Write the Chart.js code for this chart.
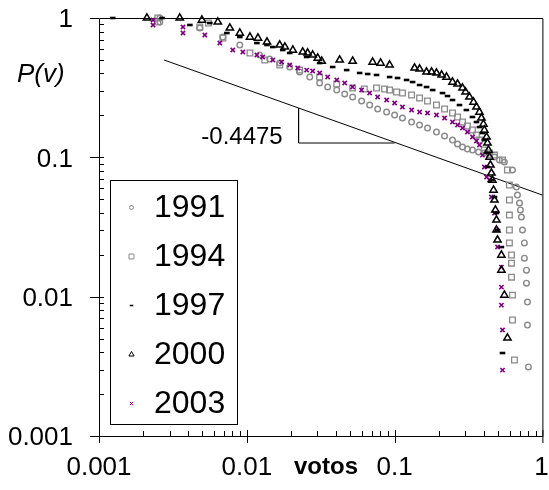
<!DOCTYPE html>
<html>
<head>
<meta charset="utf-8">
<script src="https://cdn.jsdelivr.net/npm/chart.js@4.4.0/dist/chart.umd.min.js"></script>
<style>
  html, body { margin: 0; padding: 0; background: #fff; }
</style>
</head>
<body>
<canvas id="votosChart" width="549" height="490"></canvas>
<script>
// P(v) vs votos, one pair of arrays per election year
const v1991 = [0.00258, 0.00258, 0.00481, 0.00689, 0.00897,
    0.0122, 0.01429, 0.0167, 0.0195, 0.0228, 0.02667, 0.0311, 0.03524, 0.0406, 0.04597, 0.052, 0.0598, 0.0678, 0.0768, 0.0883,
    0.1, 0.113, 0.1303, 0.1476, 0.167, 0.192, 0.2178, 0.2465, 0.2667, 0.288, 0.311, 0.3365, 0.3698, 0.405, 0.439, 0.474, 0.512, 0.553,
    0.627, 0.667, 0.678, 0.7, 0.71, 0.721, 0.733, 0.755, 0.755, 0.78, 0.78, 0.792, 0.792, 0.804];
const p1991 = [1, 0.936, 0.848, 0.73, 0.64,
    0.543, 0.508, 0.475, 0.445, 0.41, 0.377, 0.3415, 0.3197, 0.304, 0.2847, 0.271, 0.2536, 0.2373, 0.2222, 0.2114,
    0.2012, 0.1915, 0.1792, 0.1706, 0.1623, 0.1519, 0.1422, 0.133, 0.1246, 0.1186, 0.1147, 0.1128, 0.1092, 0.1074, 0.1038, 0.1005, 0.0957, 0.0925,
    0.0811, 0.0612, 0.0536, 0.047, 0.0419, 0.0373, 0.0301, 0.0243, 0.0189, 0.0155, 0.0125, 0.00915, 0.00625, 0.00313];

const v1994 = [0.0025, 0.0025, 0.00481, 0.0055, 0.00689, 0.0105, 0.01323, 0.0167, 0.0228, 0.0311,
    0.0406, 0.052, 0.06237, 0.0755, 0.0855, 0.0925, 0.1031, 0.113, 0.1303, 0.1476,
    0.167, 0.192, 0.2178, 0.2465, 0.2667, 0.288, 0.311, 0.3365, 0.358, 0.375,
    0.405, 0.439, 0.474, 0.537, 0.58, 0.598, 0.598, 0.598, 0.598, 0.598,
    0.618, 0.618, 0.618, 0.627, 0.627, 0.647];
const p1994 = [1, 0.936, 0.862, 0.92, 0.718, 0.561, 0.4995, 0.46, 0.423, 0.377,
    0.336, 0.3144, 0.3093, 0.3144, 0.3093, 0.304, 0.2943, 0.2893, 0.28, 0.2665,
    0.2536, 0.2373, 0.2222, 0.208, 0.1947, 0.1792, 0.1677, 0.157, 0.1446, 0.133,
    0.1128, 0.1074, 0.1038, 0.0957, 0.0811, 0.0633, 0.0494, 0.0385, 0.0301, 0.0243,
    0.0199, 0.0174, 0.0138, 0.01026, 0.0068, 0.00351];

const v1997 = [0.00124, 0.00267, 0.00412, 0.00562, 0.00733, 0.00897, 0.0117, 0.0137, 0.015, 0.0175,
    0.0195, 0.0254, 0.0311, 0.0381, 0.0474, 0.058, 0.0657, 0.0755, 0.0925, 0.1047,
    0.1205, 0.1324, 0.1476, 0.1645, 0.181, 0.211, 0.228, 0.2465, 0.2748, 0.306,
    0.3365, 0.358, 0.375, 0.393, 0.405, 0.419, 0.425, 0.452, 0.474, 0.489,
    0.497, 0.528, 0.537];
const p1997 = [1, 1, 0.891, 0.92, 0.78, 0.73, 0.661, 0.64, 0.619, 0.589,
    0.561, 0.525, 0.475, 0.445, 0.423, 0.403, 0.3963, 0.39, 0.377, 0.371,
    0.359, 0.347, 0.3304, 0.3197, 0.304, 0.2893, 0.2754, 0.2578, 0.2373, 0.2186,
    0.1947, 0.1792, 0.165, 0.1494, 0.133, 0.1074, 0.0852, 0.0687, 0.0519, 0.0398,
    0.0301, 0.0227, 0.00394];

const v2000 = [0.00211, 0.00352, 0.00497, 0.00637, 0.00768, 0.00897, 0.0105, 0.0119, 0.0137, 0.0167,
    0.0181, 0.0205, 0.0239, 0.0258, 0.0279, 0.0302, 0.0321, 0.0425, 0.052, 0.071,
    0.0804, 0.0925, 0.1365, 0.1476, 0.1645, 0.178, 0.192, 0.208, 0.2245, 0.2465,
    0.2667, 0.288, 0.302, 0.321, 0.342, 0.358, 0.375, 0.387, 0.399, 0.405,
    0.419, 0.425, 0.432, 0.439, 0.445, 0.452, 0.459, 0.467, 0.474, 0.481,
    0.489, 0.489, 0.497, 0.528, 0.528, 0.553, 0.58];
const p2000 = [1, 1, 0.967, 0.936, 0.848, 0.78, 0.73, 0.718, 0.673, 0.64,
    0.619, 0.589, 0.57, 0.561, 0.543, 0.516, 0.49, 0.4995, 0.49, 0.483,
    0.475, 0.46, 0.4375, 0.4305, 0.41, 0.41, 0.403, 0.39, 0.377, 0.347,
    0.336, 0.3144, 0.2943, 0.271, 0.2494, 0.2297, 0.2114, 0.1915, 0.1734, 0.157,
    0.14, 0.1267, 0.1128, 0.1005, 0.0881, 0.0772, 0.0687, 0.0582, 0.0494, 0.0419,
    0.0355, 0.0301, 0.0255, 0.0199, 0.0155, 0.01026, 0.00505];

const v2003 = [0.00232, 0.00232, 0.0037, 0.0037, 0.0052, 0.00657, 0.00804, 0.0094, 0.0117, 0.0128,
    0.015, 0.0172, 0.0195, 0.0221, 0.0254, 0.0279, 0.0311, 0.03524, 0.0406, 0.04597,
    0.052, 0.0598, 0.0678, 0.0768, 0.0883, 0.1, 0.113, 0.1303, 0.1476, 0.167,
    0.192, 0.2178, 0.2465, 0.2667, 0.288, 0.311, 0.3365, 0.358, 0.375, 0.393,
    0.405, 0.419, 0.439, 0.452, 0.474, 0.489, 0.497, 0.528, 0.528, 0.528,
    0.537, 0.537];
const p2003 = [0.967, 0.891, 0.862, 0.78, 0.755, 0.661, 0.589, 0.57, 0.543, 0.525,
    0.4995, 0.483, 0.46, 0.4375, 0.423, 0.4165, 0.403, 0.377, 0.359, 0.3415,
    0.3197, 0.304, 0.2893, 0.271, 0.2578, 0.2453, 0.2297, 0.2186, 0.2114, 0.208,
    0.2012, 0.1915, 0.1792, 0.1706, 0.1623, 0.1519, 0.14, 0.131, 0.1226, 0.1038,
    0.0852, 0.0722, 0.0687, 0.0519, 0.0398, 0.0301, 0.0227, 0.0163, 0.0117, 0.0087,
    0.00576, 0.00297];

// power-law fit line and the slope triangle
const fitV = [0.00275, 1];
const fitP = [0.5, 0.0536];
const triV = [0.0224, 0.0224, 0.1];
const triP = [0.2255, 0.1267, 0.1267];
const slopeLabel = '-0.4475';

const decades = [0.001, 0.01, 0.1, 1];
const tickLabels = ['0.001', '0.01', '0.1', '1'];

function toPoints(xs, ys) {
    return xs.map((v, i) => ({x: v, y: ys[i]}));
}

const FONT = '"Liberation Sans", Arial, sans-serif';

const decor = {
    id: 'decor',
    beforeDatasetsDraw(chart) {
        const ctx = chart.ctx;
        const a = chart.chartArea;
        const xs = chart.scales.x, ys = chart.scales.y;
        ctx.save();
        ctx.strokeStyle = '#000';
        ctx.lineWidth = 1;
        ctx.beginPath();
        // frame
        ctx.moveTo(a.left + 0.5, a.top + 0.5);
        ctx.lineTo(a.right + 0.5, a.top + 0.5);
        ctx.lineTo(a.right + 0.5, a.bottom + 0.5);
        ctx.lineTo(a.left + 0.5, a.bottom + 0.5);
        ctx.closePath();
        // ticks: majors cross the axis, minors point inward
        for (let e = -3; e <= -1; e++) {
            for (let m = 1; m <= 9; m++) {
                const val = m * Math.pow(10, e);
                const px = Math.round(xs.getPixelForValue(val)) + 0.5;
                const py = Math.round(ys.getPixelForValue(val)) + 0.5;
                if (m === 1) {
                    ctx.moveTo(px, a.bottom - 6); ctx.lineTo(px, a.bottom + 7);
                    ctx.moveTo(a.left - 9, py); ctx.lineTo(a.left + 5, py);
                } else {
                    ctx.moveTo(px, a.bottom - 5); ctx.lineTo(px, a.bottom);
                    ctx.moveTo(a.left, py); ctx.lineTo(a.left + 5, py);
                }
            }
        }
        ctx.moveTo(a.right + 0.5, a.bottom - 6); ctx.lineTo(a.right + 0.5, a.bottom + 7);
        ctx.moveTo(a.left - 9, a.top + 0.5); ctx.lineTo(a.left, a.top + 0.5);
        ctx.stroke();
        ctx.restore();
    },
    afterDraw(chart) {
        const ctx = chart.ctx;
        const xs = chart.scales.x, ys = chart.scales.y;
        ctx.save();
        ctx.fillStyle = '#000';
        // tick labels
        ctx.font = '26px ' + FONT;
        ctx.textBaseline = 'middle';
        ctx.textAlign = 'right';
        decades.forEach((d, i) => {
            ctx.fillText(tickLabels[i], 73, ys.getPixelForValue(d) + 2);
        });
        ctx.textAlign = 'center';
        decades.forEach((d, i) => {
            let px = xs.getPixelForValue(d);
            if (i === decades.length - 1) px -= 1;
            ctx.fillText(tickLabels[i], px, 468);
        });
        // axis titles
        ctx.font = 'bold 24px ' + FONT;
        ctx.fillText('votos', 326, 467);
        ctx.font = 'italic 26px ' + FONT;
        ctx.textAlign = 'left';
        ctx.fillText('P(v)', 17, 75);
        // slope label
        ctx.font = '24px ' + FONT;
        ctx.textAlign = 'right';
        ctx.fillText(slopeLabel, xs.getPixelForValue(0.0175), ys.getPixelForValue(0.14));

        // legend
        const box = {l: 110.5, t: 180.5, r: 237.5, b: 424.5};
        ctx.strokeStyle = '#000';
        ctx.lineWidth = 1;
        ctx.strokeRect(box.l, box.t, box.r - box.l, box.b - box.t);
        ctx.font = '32px ' + FONT;
        ctx.textAlign = 'left';
        chart.data.datasets.filter(ds => ds.isYear)
            .sort((p, q) => p.label.localeCompare(q.label))
            .forEach((ds, i) => {
                const cy = 207 + i * 49;
                const isDash = ds.pointStyle === 'line';
                ctx.strokeStyle = ds.borderColor;
                ctx.fillStyle = 'rgba(0,0,0,0)';
                ctx.lineWidth = isDash ? 1.5 : 1;
                Chart.helpers.drawPoint(ctx, {
                    pointStyle: ds.pointStyle,
                    radius: ds.legendRadius,
                    rotation: 0,
                    borderWidth: ctx.lineWidth
                }, 131.5, cy + 0.5);
                ctx.fillStyle = '#000';
                ctx.fillText(ds.label, 154, cy + 1);
            });
        ctx.restore();
    }
};

const ctxV = document.getElementById('votosChart').getContext('2d');
new Chart(ctxV, {
    type: 'scatter',
    data: {
        datasets: [{
            label: '2003',
            isYear: true,
            data: toPoints(v2003, p2003),
            pointStyle: 'crossRot',
            pointRadius: 3,
            pointBorderWidth: 1.6,
            borderColor: '#800080',
            backgroundColor: 'rgba(0,0,0,0)',
            legendRadius: 2.2,
            clip: false,
            order: 1
        }, {
            label: '2000',
            isYear: true,
            data: toPoints(v2000, p2000),
            pointStyle: 'triangle',
            pointRadius: 4.2,
            pointBorderWidth: 1.5,
            borderColor: '#000',
            backgroundColor: 'rgba(0,0,0,0)',
            legendRadius: 3,
            clip: false,
            order: 0
        }, {
            label: '1997',
            isYear: true,
            data: toPoints(v1997, p1997),
            pointStyle: 'line',
            pointRadius: 2.8,
            pointBorderWidth: 2.6,
            borderColor: '#000',
            backgroundColor: '#000',
            legendRadius: 1.8,
            clip: false,
            order: 0
        }, {
            label: '1994',
            isYear: true,
            data: toPoints(v1994, p1994),
            pointStyle: 'rect',
            pointRadius: 4,
            pointBorderWidth: 1.3,
            borderColor: '#8a8a8a',
            backgroundColor: 'rgba(0,0,0,0)',
            legendRadius: 3.5,
            clip: false,
            order: 2
        }, {
            label: '1991',
            isYear: true,
            data: toPoints(v1991, p1991),
            pointStyle: 'circle',
            pointRadius: 2.8,
            pointBorderWidth: 1.4,
            borderColor: '#8a8a8a',
            backgroundColor: 'rgba(0,0,0,0)',
            legendRadius: 2,
            clip: false,
            order: 3
        }, {
            label: 'fit',
            data: toPoints(fitV, fitP),
            showLine: true,
            pointRadius: 0,
            borderColor: '#000',
            borderWidth: 1,
            clip: false,
            order: 4
        }, {
            label: 'slope',
            data: toPoints(triV, triP),
            showLine: true,
            pointRadius: 0,
            borderColor: '#000',
            borderWidth: 1,
            order: 4
        }]
    },
    options: {
        responsive: false,
        animation: false,
        devicePixelRatio: 1,
        layout: {padding: {left: 0, right: 6, top: 18, bottom: 0}},
        plugins: {legend: {display: false}, tooltip: {enabled: false}},
        scales: {
            x: {
                type: 'logarithmic', min: 0.001, max: 1,
                grid: {display: false}, border: {display: false},
                ticks: {display: false},
                afterFit(scale) { scale.height = 54; }
            },
            y: {
                type: 'logarithmic', min: 0.001, max: 1,
                grid: {display: false}, border: {display: false},
                ticks: {display: false},
                afterFit(scale) { scale.width = 99; }
            }
        }
    },
    plugins: [decor]
});
</script>
</body>
</html>
